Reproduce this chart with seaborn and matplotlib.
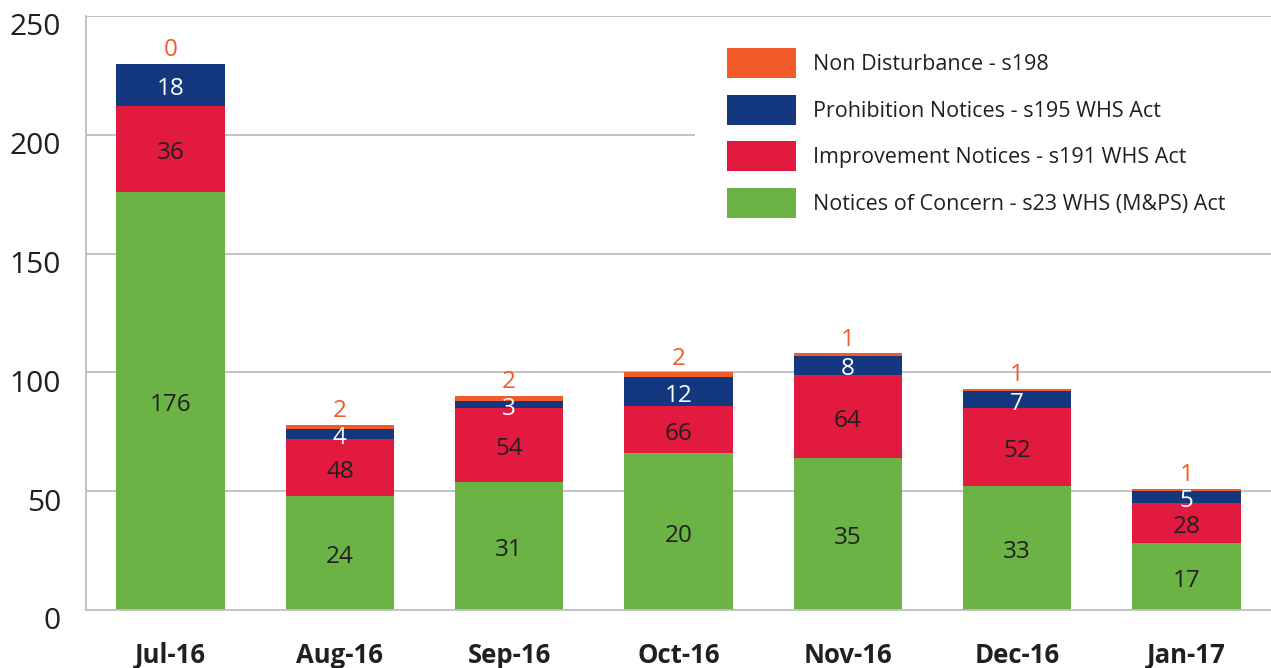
import matplotlib
matplotlib.use("Agg")
import matplotlib.pyplot as plt
import matplotlib.transforms as mtransforms
from matplotlib.patches import Patch, Rectangle
import seaborn as sns
import pandas as pd
import numpy as np

# ---- data ----
months = ["Jul-16", "Aug-16", "Sep-16", "Oct-16", "Nov-16", "Dec-16", "Jan-17"]
concern = [176, 48, 54, 66, 64, 52, 28]          # Notices of Concern (segment heights)
improvement = [36, 24, 31, 20, 35, 33, 17]       # Improvement Notices (segment heights)
prohibition = [18, 4, 3, 12, 8, 7, 5]            # Prohibition Notices
non_disturbance = [0, 2, 2, 2, 1, 1, 1]          # Non Disturbance
# labels as printed on the chart
concern_labels = [176, 24, 31, 20, 35, 33, 17]
improvement_labels = [36, 48, 54, 66, 64, 52, 28]
prohibition_labels = [18, 4, 3, 12, 8, 7, 5]
non_disturbance_labels = [0, 2, 2, 2, 1, 1, 1]

series_names = ["Non Disturbance - s198", "Prohibition Notices - s195 WHS Act",
                "Improvement Notices - s191 WHS Act", "Notices of Concern - s23 WHS (M&PS) Act"]
yticks = [0, 50, 100, 150, 200, 250]

C_GREEN = "#6AB344"
C_RED = "#E31A3F"
C_BLUE = "#14387F"
C_ORANGE = "#F15A29"
C_TEXT = "#231F20"
C_GRID = "#BCBEC0"

sns.set_theme(style="white")
plt.rcParams["font.family"] = ["Open Sans", "DejaVu Sans"]

df = pd.DataFrame({"month": months, "concern": concern, "improvement": improvement,
                   "prohibition": prohibition, "nondist": non_disturbance})
df["c1"] = df["concern"]
df["c2"] = df["c1"] + df["improvement"]
df["c3"] = df["c2"] + df["prohibition"]
df["c4"] = df["c3"] + df["nondist"]

fig = plt.figure(figsize=(12.71, 6.68), dpi=100)
ax = fig.add_axes([86 / 1271, 1 - 610 / 668, 1 - 86 / 1271, (610 - 16) / 668])

W = 0.64
for col, color in [("c4", C_ORANGE), ("c3", C_BLUE), ("c2", C_RED), ("c1", C_GREEN)]:
    sns.barplot(data=df, x="month", y=col, color=color, width=W, saturation=1,
                edgecolor="none", linewidth=0, ax=ax, zorder=3)

ax.set_xlim(-0.5, len(months) - 0.5)
ax.set_ylim(0, 250)
ax.set_yticks(yticks)
ax.set_xlabel("")
ax.set_ylabel("")

# gridlines
for y in yticks[1:]:
    ax.axhline(y, color=C_GRID, lw=1.3, zorder=0.5)

# white box behind legend
ax.add_patch(Rectangle(((695 - 86) / 1185, 0.62), 1, 0.345, transform=ax.transAxes,
                       facecolor="white", edgecolor="none", zorder=1))

# spines
for s in ["top", "right"]:
    ax.spines[s].set_visible(False)
for s in ["left", "bottom"]:
    ax.spines[s].set_color(C_GRID)
    ax.spines[s].set_linewidth(1.3)
    ax.spines[s].set_zorder(4)

ax.tick_params(axis="y", length=0, pad=18, labelsize=21.5, labelcolor=C_TEXT)
ax.tick_params(axis="x", which="major", length=0, pad=23, labelsize=18.5, labelcolor=C_TEXT)
for lab in ax.get_xticklabels():
    lab.set_fontweight("bold")
ax.set_xticks(np.arange(0.5, len(months) - 1, 1.0), minor=True)
ax.tick_params(axis="x", which="minor", direction="in", length=10, width=1.3, color=C_GRID)

off = mtransforms.ScaledTranslation(0, -6 / 72, fig.dpi_scale_trans)
for lab in ax.get_yticklabels():
    lab.set_transform(lab.get_transform() + off)

# value labels
fs = 17.5
def put(i, y, txt, color, dy=-3):
    ax.annotate(txt, xy=(i, y), xytext=(0, dy), textcoords="offset points",
                ha="center", va="center", fontsize=fs, color=color, zorder=5)

for i in range(len(months)):
    put(i, df["c1"][i] / 2, str(concern_labels[i]), C_TEXT)
    put(i, (df["c1"][i] + df["c2"][i]) / 2, str(improvement_labels[i]), C_TEXT)
    put(i, (df["c2"][i] + df["c3"][i]) / 2, str(prohibition_labels[i]), "white")
    put(i, df["c4"][i], str(non_disturbance_labels[i]), C_ORANGE, dy=10)

handles = [Patch(facecolor=c, edgecolor="none") for c in [C_ORANGE, C_BLUE, C_RED, C_GREEN]]
leg = ax.legend(handles, series_names, loc="upper left",
                bbox_to_anchor=(727 / 1271, 1 - 48 / 668), bbox_transform=fig.transFigure,
                frameon=False, fontsize=15.5, handlelength=3.2, handleheight=1.767,
                handletextpad=0.79, labelspacing=0.77, borderpad=0, borderaxespad=0)
for t in leg.get_texts():
    t.set_color(C_TEXT)
leg.set_zorder(6)

fig.savefig("out.png", dpi=100, facecolor="white")
